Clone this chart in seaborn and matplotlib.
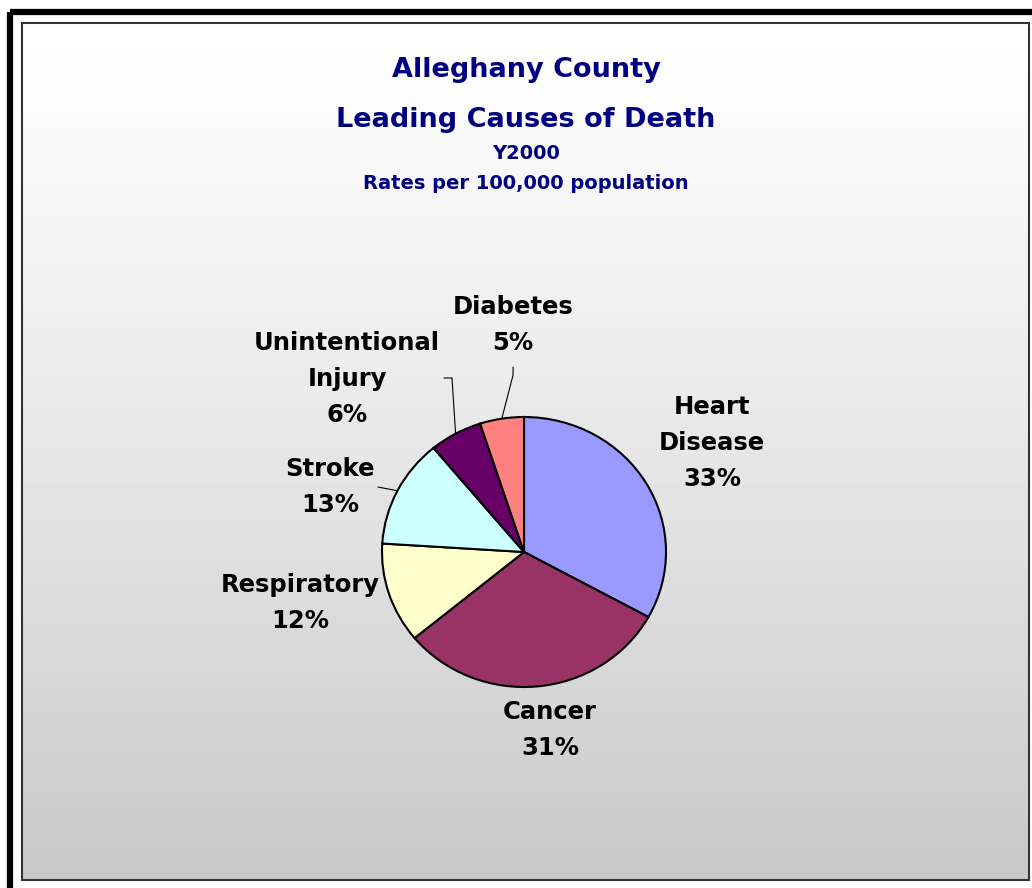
import numpy as np
import matplotlib
matplotlib.use("Agg")
import matplotlib.pyplot as plt
import seaborn as sns
from matplotlib.patches import Rectangle

# data (percent of deaths)
causes = ["Heart\nDisease", "Cancer", "Respiratory", "Stroke", "Unintentional\nInjury", "Diabetes"]
shares = [33, 31, 12, 13, 6, 5]
slice_colors = ["#9999FF", "#993366", "#FFFFCC", "#CCFFFF", "#660066", "#FF8080"]

title_lines = ["Alleghany County", "Leading Causes of Death"]
subtitle_lines = ["Y2000", "Rates per 100,000 population"]

sns.set_style("white")
plt.rcParams["font.family"] = ["DejaVu Sans"]

W, H = 1032, 888
fig = plt.figure(figsize=(W / 100, H / 100), dpi=100)

# background panel in pixel coordinates
bg = fig.add_axes([0, 0, 1, 1])
bg.set_xlim(0, W)
bg.set_ylim(H, 0)
bg.axis("off")
t = np.linspace(0, 1, 256) ** 1.15
grad = (1.0 - 0.215 * t).reshape(-1, 1)
bg.imshow(grad, cmap="gray", vmin=0, vmax=1, aspect="auto",
          extent=[22, 1029, 880, 23], zorder=0)
bg.add_patch(Rectangle((22, 23), 1007, 857, fill=False, ec="#333333", lw=1.5, zorder=1))
bg.add_patch(Rectangle((10, 12), 1200, 1000, fill=False, ec="black", lw=4.5, zorder=1))

navy = "#000080"
bg.text(526, 77, title_lines[0], ha="center", va="baseline", fontsize=19.5, fontweight="bold", color=navy)
bg.text(526, 127, title_lines[1], ha="center", va="baseline", fontsize=19.5, fontweight="bold", color=navy)
bg.text(526, 159, subtitle_lines[0], ha="center", va="baseline", fontsize=14, fontweight="bold", color=navy)
bg.text(526, 189, subtitle_lines[1], ha="center", va="baseline", fontsize=14, fontweight="bold", color=navy)

# pie axes: one data unit = 142 px across, 135 px up
cx, cy, rx, ry = 524, 552, 142, 135
ax = fig.add_axes([0, 0, 1, 1])
ax.patch.set_alpha(0)
wedges, _ = ax.pie(shares, colors=sns.color_palette(slice_colors), startangle=90,
                   counterclock=False, radius=1,
                   wedgeprops=dict(edgecolor="black", linewidth=1.5))
ax.set_aspect("auto")
ax.set_xlim(-cx / rx, (W - cx) / rx)
ax.set_ylim((cy - H) / ry, cy / ry)
ax.axis("off")

# label placement (data units of the pie axes)
label_pos = [(1.324, 0.807), (0.183, -1.319), (-1.577, -0.378),
             (-1.366, 0.481), (-1.246, 1.281), (-0.077, 1.681)]
total = sum(shares)
for name, val, (lx, ly) in zip(causes, shares, label_pos):
    ax.text(lx, ly, f"{name}\n{round(100 * val / total)}%", ha="center", va="center",
            fontsize=17.5, fontweight="bold", color="black", linespacing=1.65)

# leader lines from slice edges
def edge_point(w):
    mid = np.deg2rad((w.theta1 + w.theta2) / 2)
    return np.cos(mid), np.sin(mid)

leaders = {3: [(-1.028, 0.481)],
           4: [(-0.507, 1.289), (-0.563, 1.289)],
           5: [(-0.077, 1.311), (-0.077, 1.370)]}
for i, pts in leaders.items():
    ex, ey = edge_point(wedges[i])
    xs = [ex] + [p[0] for p in pts]
    ys = [ey] + [p[1] for p in pts]
    ax.plot(xs, ys, color="black", lw=0.8)

fig.savefig("out.png", dpi=100)
